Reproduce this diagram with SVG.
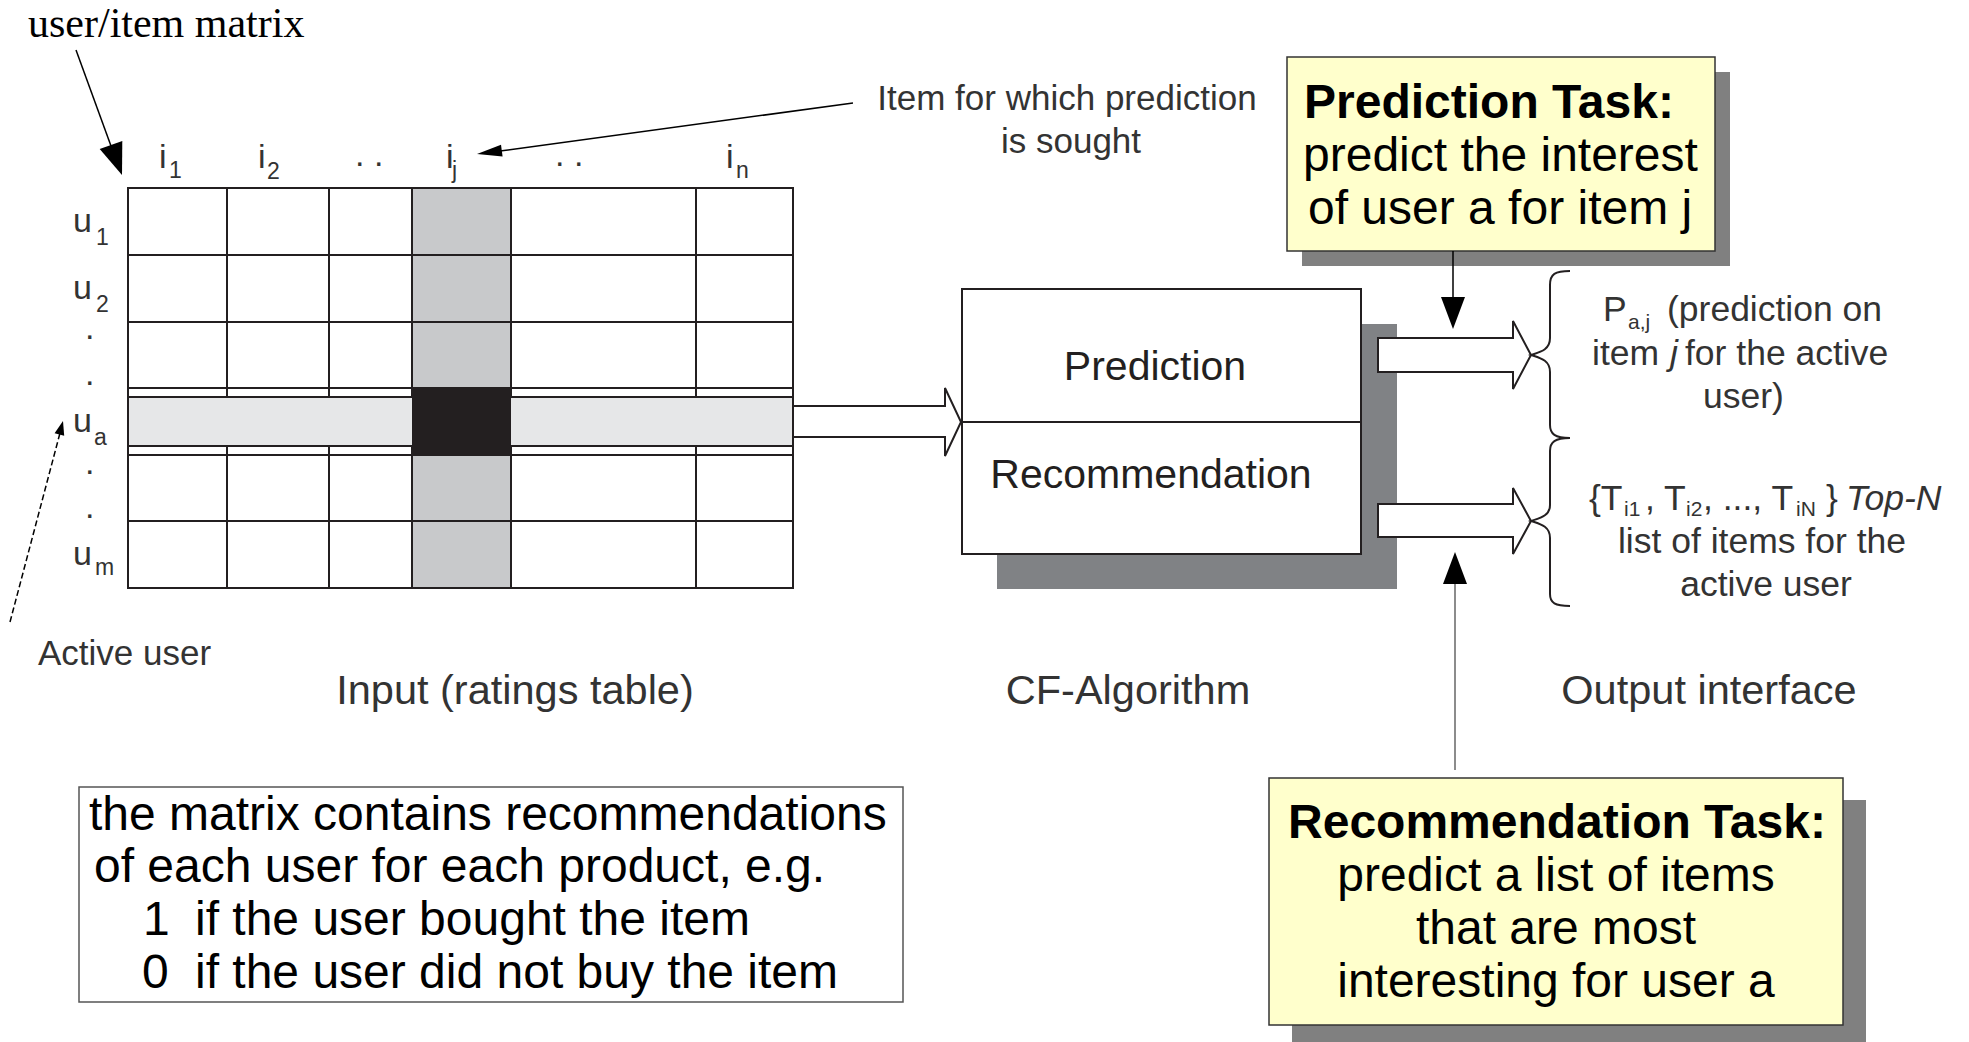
<svg xmlns="http://www.w3.org/2000/svg" width="1969" height="1042" viewBox="0 0 1969 1042">
  <style>
    .sans { font-family: "Liberation Sans", Arial, sans-serif; }
    .lbl { font-family: "Liberation Sans", Arial, sans-serif; fill: #333333; }
    .sub { font-size: 23px; }
    .osub { font-size: 21px; }
    .grid { stroke: #231f20; stroke-width: 2; fill: none; }
    .hollow { fill: #ffffff; stroke: #231f20; stroke-width: 2; stroke-linejoin: miter; }
    .shadow { fill: #808285; }
    .yshadow { fill: #808080; }
    .note { fill: #ffffcc; stroke: #333333; stroke-width: 1.5; }
    .task { font-family: "Liberation Sans", Arial, sans-serif; font-size: 48px; fill: #000000; }
    .conn { stroke: #000000; stroke-width: 1.5; fill: none; }
  </style>
  <rect x="0" y="0" width="1969" height="1042" fill="#ffffff"/>

  <text x="28" y="37" font-family="'Liberation Serif', 'Times New Roman', serif" font-size="42" fill="#000000">user/item matrix</text>

  <g id="matrix">
    <rect x="412" y="188" width="99" height="400" fill="#c8c9cb"/>
    <rect x="128" y="188" width="665" height="400" class="grid"/>
    <path class="grid" d="M227,188V588M329,188V588M412,188V588M511,188V588M696,188V588M128,255H793M128,322H793M128,388H793M128,455H793M128,521H793"/>
    <rect x="128" y="397" width="665" height="49" fill="#e6e7e8" stroke="#231f20" stroke-width="2"/>
    <rect x="412" y="388" width="99" height="67" fill="#231f20"/>
    <g class="lbl" font-size="34">
      <text x="159" y="168">i<tspan x="169" y="178" class="sub">1</tspan></text>
      <text x="258" y="168">i<tspan x="267" y="179" class="sub">2</tspan></text>
      <text x="355" y="166">.<tspan x="374">.</tspan></text>
      <text x="446" y="168">i<tspan x="452" y="178" class="sub">j</tspan></text>
      <text x="555" y="166">.<tspan x="574">.</tspan></text>
      <text x="726" y="168">i<tspan x="736" y="178" class="sub">n</tspan></text>
      <text x="73" y="232">u<tspan x="96" y="245" class="sub">1</tspan></text>
      <text x="73" y="299">u<tspan x="96" y="312" class="sub">2</tspan></text>
      <text x="85" y="339">.</text>
      <text x="85" y="385">.</text>
      <text x="73" y="432">u<tspan x="94" y="445" class="sub">a</tspan></text>
      <text x="85" y="474">.</text>
      <text x="85" y="518">.</text>
      <text x="73" y="565">u<tspan x="95" y="575" class="sub">m</tspan></text>
    </g>
  </g>

  <g id="annotations" class="lbl">
    <text x="1067" y="110" font-size="35" text-anchor="middle">Item for which prediction</text>
    <text x="1071" y="153" font-size="35" text-anchor="middle">is sought</text>
    <text x="38" y="665" font-size="35">Active user</text>
    <text x="515" y="704" font-size="41.5" text-anchor="middle">Input (ratings table)</text>
    <text x="1128" y="704" font-size="41.5" text-anchor="middle">CF-Algorithm</text>
    <text x="1709" y="704" font-size="41.5" text-anchor="middle">Output interface</text>
  </g>

  <g id="cf-algorithm">
    <rect x="997" y="324" width="400" height="265" class="shadow"/>
    <rect x="962" y="289" width="399" height="265" fill="#ffffff" stroke="#231f20" stroke-width="2"/>
    <line x1="962" y1="422" x2="1361" y2="422" stroke="#231f20" stroke-width="2"/>
    <text x="1155" y="380" font-size="41" text-anchor="middle" class="sans" fill="#231f20">Prediction</text>
    <text x="1151" y="488" font-size="41" text-anchor="middle" class="sans" fill="#231f20">Recommendation</text>
  </g>

  <g id="output-labels" class="lbl" font-size="35.5">
    <text x="1603" y="321">P<tspan x="1628" y="329" class="osub">a,j</tspan><tspan x="1667" y="321">(prediction on</tspan></text>
    <text x="1592" y="365">item<tspan x="1670" font-style="italic">j</tspan><tspan x="1685">for the active</tspan></text>
    <text x="1703" y="408">user)</text>
    <text x="1589" y="510">{T<tspan x="1624" y="516" class="osub">i1</tspan><tspan x="1645" y="510">, T</tspan><tspan x="1686" y="516" class="osub">i2</tspan><tspan x="1703" y="510">, ..., T</tspan><tspan x="1796" y="516" class="osub">iN</tspan><tspan x="1826" y="510">}</tspan><tspan x="1846" font-style="italic">Top-N</tspan></text>
    <text x="1762" y="553" text-anchor="middle">list of items for the</text>
    <text x="1766" y="596" text-anchor="middle">active user</text>
  </g>

  <g id="prediction-task">
    <rect x="1302" y="72" width="428" height="194" class="yshadow"/>
    <rect x="1287" y="57" width="428" height="194" class="note"/>
    <text x="1304" y="118" class="task" font-weight="bold">Prediction Task:</text>
    <text x="1303" y="171" class="task">predict the interest</text>
    <text x="1308" y="224" class="task">of user a for item j</text>
  </g>

  <g id="recommendation-task">
    <rect x="1292" y="800" width="574" height="242" class="yshadow"/>
    <rect x="1269" y="778" width="574" height="247" class="note"/>
    <text x="1557" y="838" class="task" font-weight="bold" text-anchor="middle">Recommendation Task:</text>
    <text x="1556" y="891" class="task" text-anchor="middle">predict a list of items</text>
    <text x="1556" y="944" class="task" text-anchor="middle">that are most</text>
    <text x="1556" y="997" class="task" text-anchor="middle">interesting for user a</text>
  </g>

  <g id="matrix-note">
    <rect x="79" y="787" width="824" height="215" fill="#ffffff" stroke="#555555" stroke-width="1.5"/>
    <g class="sans" font-size="48" fill="#000000">
      <text x="89" y="830">the matrix contains recommendations</text>
      <text x="94" y="882">of each user for each product, e.g.</text>
      <text x="143" y="935">1<tspan x="195">if the user bought the item</tspan></text>
      <text x="142" y="988">0<tspan x="195">if the user did not buy the item</tspan></text>
    </g>
  </g>

  <g id="connectors">
    <line x1="76" y1="50" x2="111" y2="146" class="conn"/>
    <polygon points="122,175 99.7,149.1 122.3,140.9" fill="#000000"/>
    <line x1="853" y1="103" x2="500" y2="151" class="conn"/>
    <polygon points="477,154 502.6,156.5 501,144.7" fill="#000000"/>
    <line x1="10" y1="622" x2="60" y2="433" class="conn" stroke-dasharray="6 3"/>
    <polygon points="63,421 64.2,435.8 54.6,433.2" fill="#000000"/>
    <polygon class="hollow" points="793,406 945,406 945,388 961,422 945,456 945,437 793,437"/>
    <polygon class="hollow" points="1378,338 1513,338 1513,321 1531,355 1513,389 1513,372 1378,372"/>
    <polygon class="hollow" points="1378,504 1513,504 1513,488 1531,521 1513,554 1513,537 1378,537"/>
    <path d="M1570,271 C1555,271 1550,274 1550,285 L1550,338 C1550,350 1540,352 1531,355 C1540,358 1550,360 1550,372 L1550,425 C1550,434 1555,438 1570,438" fill="none" stroke="#231f20" stroke-width="2"/>
    <path d="M1570,438 C1555,438 1550,442 1550,451 L1550,505 C1550,516 1540,518 1531,521 C1540,524 1550,526 1550,538 L1550,594 C1550,603 1555,606 1570,606" fill="none" stroke="#231f20" stroke-width="2"/>
    <line x1="1453" y1="251" x2="1453" y2="298" class="conn"/>
    <polygon points="1441,297 1465,297 1453,329" fill="#000000"/>
    <line x1="1455" y1="770" x2="1455" y2="583" stroke="#666666" stroke-width="1.5"/>
    <polygon points="1443,584 1467,584 1455,552" fill="#000000"/>
  </g>
</svg>
